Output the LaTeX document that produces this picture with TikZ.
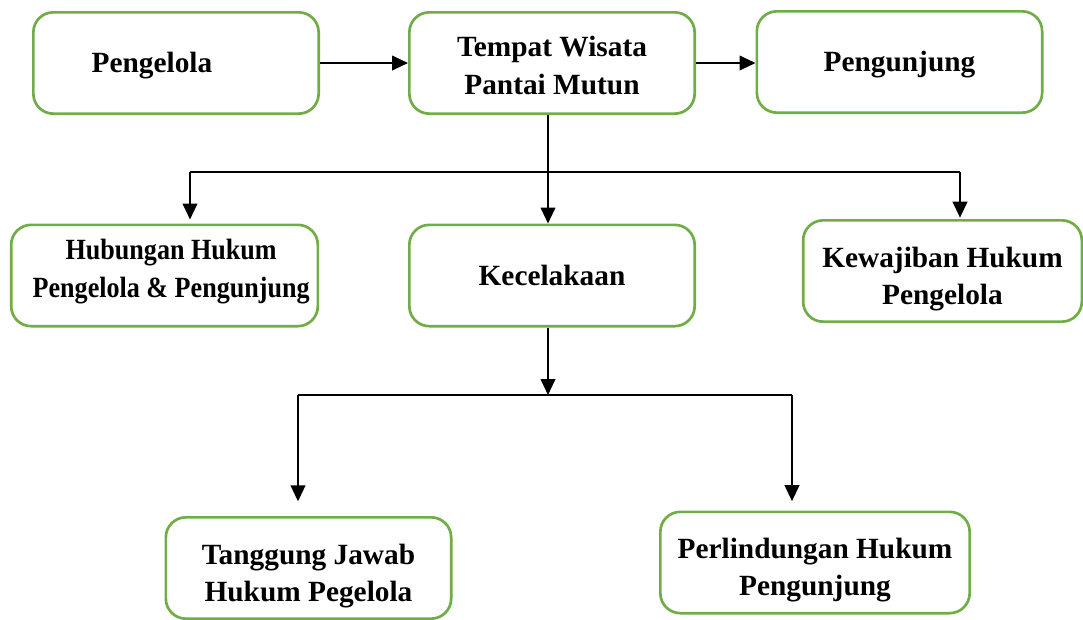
\documentclass[tikz,border=0pt]{standalone}
\usepackage{fontspec}
\setmainfont{Liberation Serif}
\newfontfamily\narrowserif{Liberation Serif}[FakeStretch=0.89]
\usetikzlibrary{arrows.meta,positioning}
\definecolor{boxgreen}{HTML}{70AD47}
\newcommand{\topgap}[1]{\rule{0pt}{#1}}
\tikzset{
  box/.style={draw=boxgreen, line width=2pt, rounded corners=15pt, align=center,
    minimum width=214pt, minimum height=76pt, font=\fontsize{22}{28}\selectfont\bfseries},
  arr/.style={-{Triangle[length=12pt,width=11pt]}, line width=1.5pt},
  link/.style={line width=0.9pt}
}

\begin{document}
\begin{tikzpicture}[x=0.75pt,y=-0.75pt]
\useasboundingbox (0,0) rectangle (1083,619);
% top row
\node[box] (pengelola) at (176,63) {\hspace*{-36pt}\topgap{19pt}Pengelola};
\node[box] (wisata) at (552,63) {\topgap{19pt}Tempat Wisata\\Pantai Mutun};
\node[box] (pengunjung) at (899.5,62) {\topgap{19pt}Pengunjung};
\draw[arr] (pengelola.east) -- (pengelola.east -| wisata.west);
\draw[arr] (wisata.east) -- (wisata.east -| pengunjung.west);
% middle row
\node[box, minimum width=230pt, font=\fontsize{22}{28}\narrowserif\bfseries] (hubungan) at (164.5,275.5) {\hspace*{10pt}Hubungan Hukum\\\hspace*{10pt}Pengelola \& Pengunjung\rule[-11pt]{0pt}{0pt}};
\node[box] (kecelakaan) at (552,275.5) {Kecelakaan};
\node[box, minimum width=209pt] (kewajiban) at (942.5,271) {\topgap{27pt}Kewajiban Hukum\\Pengelola};
\coordinate (split) at (548,172);
\coordinate (left) at (190,172);
\coordinate (right) at (960,172);
\draw[link] (split |- wisata.south) -- (split);
\draw[link] (left) -- (right);
\draw[arr] (split) -- (split |- kecelakaan.north);
\draw[arr, shorten >=3pt] (left) -- (left |- hubungan.north);
\draw[arr, shorten >=1pt] (right) -- (right |- kewajiban.north);
% bottom row
\node[box] (tanggung) at (308.5,568) {\topgap{27pt}Tanggung Jawab\\Hukum Pegelola};
\node[box, minimum width=232pt] (perlindungan) at (815,562.5) {\topgap{27pt}Perlindungan Hukum\\Pengunjung};
\coordinate (split2) at (548,395);
\coordinate (left2) at (298,395);
\coordinate (right2) at (792,395);
\draw[arr] (split2 |- kecelakaan.south) -- (split2);
\draw[link] (left2) -- (right2);
\draw[arr, shorten >=11pt] (left2) -- (left2 |- tanggung.north);
\draw[arr, shorten >=7pt] (right2) -- (right2 |- perlindungan.north);
\end{tikzpicture}
\end{document}
